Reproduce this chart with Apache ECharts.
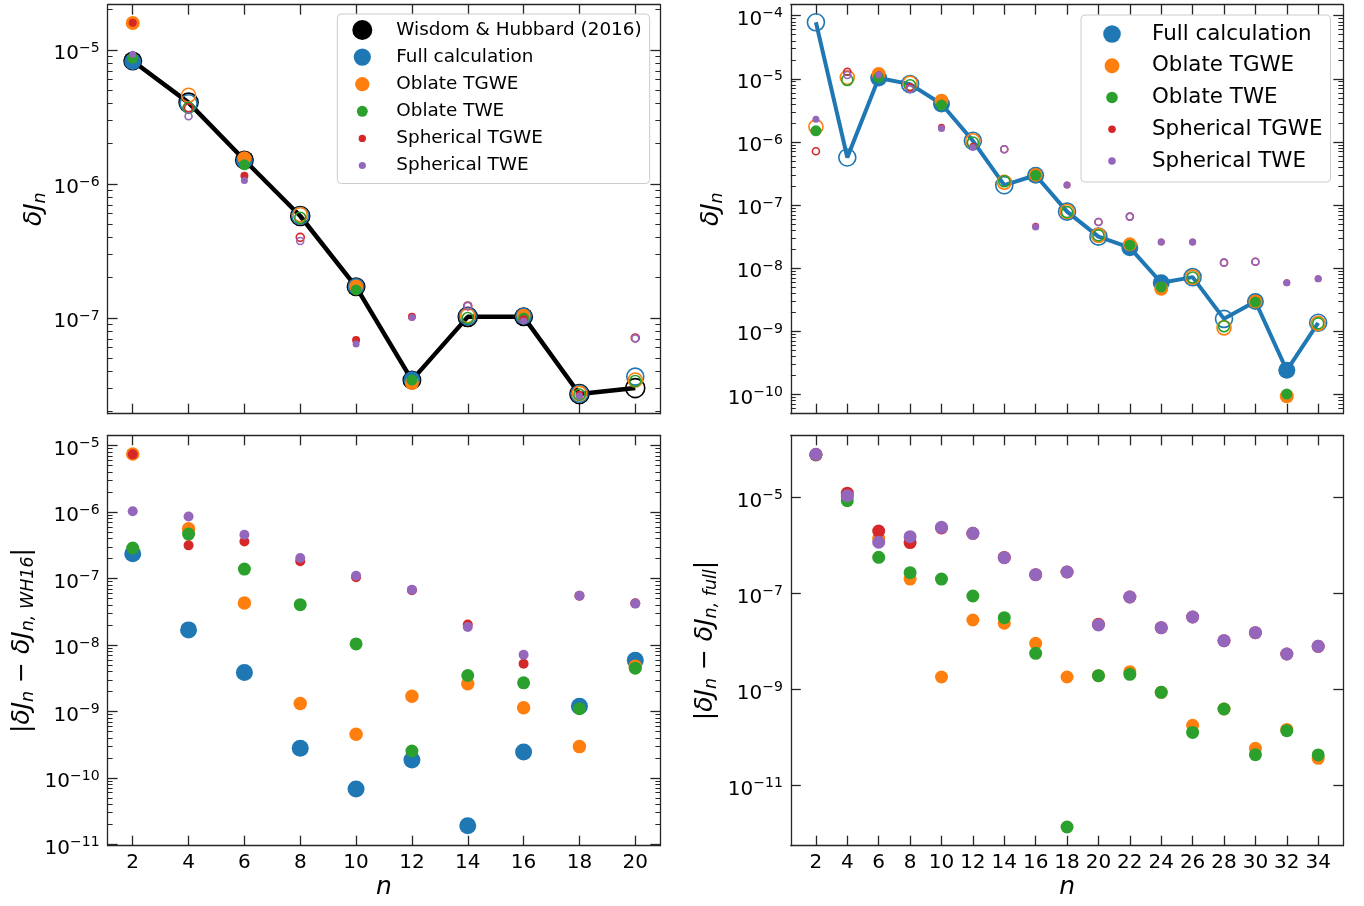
<!DOCTYPE html>
<html><head><meta charset="utf-8">
<script src="https://cdn.jsdelivr.net/npm/echarts@6/dist/echarts.min.js"></script>
<style>html,body{margin:0;padding:0;background:#fff}#c{width:1364px;height:906px}</style>
</head><body><div id="c"></div>
<script>
const FONT = 'DejaVu Sans';
const C_WH = '#000000', C_FULL = '#1f77b4', C_OT = '#ff7f0e', C_OW = '#2ca02c', C_ST = '#d62728', C_SW = '#9467bd';

const nLeft = [2, 4, 6, 8, 10, 12, 14, 16, 18, 20];
const nRight = [2, 4, 6, 8, 10, 12, 14, 16, 18, 20, 22, 24, 26, 28, 30, 32, 34];

// Top-left: δJn (signed; a negative value is drawn as |δJn| with an open marker)
const tlWH16        = [8.28e-6, -4.05e-6, 1.51e-6, -5.77e-7, 1.71e-7, 3.44e-8, -1.02e-7, 1.02e-7, -2.71e-8, -3.0e-8];
const tlFull        = [8.2e-6, -4.0e-6, 1.5e-6, -5.8e-7, 1.72e-7, 3.46e-8, -1.03e-7, 1.03e-7, -2.72e-8, -3.65e-8];
const tlOblateTGWE  = [1.59e-5, -4.6e-6, 1.56e-6, -5.9e-7, 1.72e-7, 3.27e-8, -1.04e-7, 1.04e-7, -2.74e-8, -3.45e-8];
const tlOblateTWE   = [8.7e-6, -3.7e-6, 1.39e-6, -5.6e-7, 1.62e-7, 3.44e-8, -1.0e-7, 1.0e-7, -2.68e-8, -3.39e-8];
const tlSphTGWE     = [1.6e-5, -3.7e-6, 1.15e-6, -4.0e-7, 6.85e-8, 1.02e-7, -1.23e-7, 9.8e-8, 2.68e-8, -7.1e-8];
const tlSphTWE      = [9.3e-6, -3.2e-6, 1.06e-6, -3.76e-7, 6.4e-8, 1.01e-7, -1.23e-7, 9.5e-8, 2.62e-8, -7.05e-8];

// Top-right: δJn (signed)
const trFull        = [-7.85e-5, -5.65e-7, 1.03e-5, -8.24e-6, 3.98e-6, -1.04e-6, -2.06e-7, 2.96e-7, -7.85e-8, -3.15e-8, 2.11e-8, 5.86e-9, -7.2e-9, -1.57e-9, 2.96e-9, 2.4e-10, -1.36e-9];
const trOblateTGWE  = [-1.73e-6, -1.05e-5, 1.19e-5, -8.5e-6, 4.48e-6, -1.04e-6, -2.3e-7, 3.0e-7, -7.9e-8, -3.3e-8, 2.38e-8, 4.71e-9, -7.2e-9, -1.13e-9, 2.96e-9, 9.3e-11, -1.33e-9];
const trOblateTWE   = [1.5e-6, -9.55e-6, 1.05e-5, -7.9e-6, 3.83e-6, -9.8e-7, -2.38e-7, 2.96e-7, -7.7e-8, -3.3e-8, 2.31e-8, 5.0e-9, -7.1e-9, -1.2e-9, 2.9e-9, 1.01e-10, -1.33e-9];
const trSphTGWE     = [-7.1e-7, -1.29e-5, 1.16e-5, -7.3e-6, 1.7e-6, 8.5e-7, -7.65e-7, 4.6e-8, 2.07e-7, -5.37e-8, -6.55e-8, 2.59e-8, 2.59e-8, -1.22e-8, -1.26e-8, 5.86e-9, 6.8e-9];
const trSphTWE      = [2.29e-6, -1.15e-5, 1.16e-5, -6.87e-6, 1.63e-6, 8.15e-7, -7.65e-7, 4.48e-8, 2.07e-7, -5.37e-8, -6.55e-8, 2.59e-8, 2.59e-8, -1.22e-8, -1.26e-8, 5.86e-9, 6.8e-9];

// Bottom-left: |δJn − δJn,WH16|
const blFull        = [2.36e-7, 1.69e-8, 3.85e-9, 2.79e-10, 6.8e-11, 1.86e-10, 1.9e-11, 2.45e-10, 1.2e-9, 5.91e-9];
const blOblateTGWE  = [7.5e-6, 5.6e-7, 4.3e-8, 1.32e-9, 4.53e-10, 1.7e-9, 2.61e-9, 1.14e-9, 2.96e-10, 4.8e-9];
const blOblateTWE   = [2.88e-7, 4.67e-7, 1.39e-7, 4.05e-8, 1.04e-8, 2.54e-10, 3.48e-9, 2.7e-9, 1.1e-9, 4.49e-9];
const blSphTGWE     = [7.4e-6, 3.16e-7, 3.62e-7, 1.82e-7, 1.05e-7, 6.7e-8, 2.03e-8, 5.22e-9, 5.5e-8, 4.25e-8];
const blSphTWE      = [1.03e-6, 8.6e-7, 4.56e-7, 2.04e-7, 1.1e-7, 6.8e-8, 1.87e-8, 7.13e-9, 5.53e-8, 4.2e-8];

// Bottom-right: |δJn − δJn,full|
const brOblateTGWE  = [7.9e-5, 1.05e-5, 1.43e-6, 2.02e-7, 1.84e-9, 2.83e-8, 2.42e-8, 9.25e-9, 1.84e-9, 1.96e-9, 2.37e-9, 8.8e-10, 1.81e-10, 3.96e-10, 6.0e-11, 1.49e-10, 3.72e-11];
const brOblateTWE   = [7.8e-5, 8.67e-6, 5.73e-7, 2.74e-7, 2.02e-7, 8.95e-8, 3.16e-8, 5.73e-9, 1.38e-12, 1.96e-9, 2.09e-9, 8.8e-10, 1.29e-10, 3.96e-10, 4.43e-11, 1.4e-10, 4.37e-11];
const brSphTGWE     = [7.9e-5, 1.24e-5, 2.02e-6, 1.16e-6, 2.35e-6, 1.81e-6, 5.7e-7, 2.49e-7, 2.83e-7, 2.3e-8, 8.53e-8, 1.96e-8, 3.27e-8, 1.05e-8, 1.54e-8, 5.55e-9, 8.0e-9];
const brSphTWE      = [8.0e-5, 1.1e-5, 1.18e-6, 1.54e-6, 2.41e-6, 1.81e-6, 5.62e-7, 2.49e-7, 2.83e-7, 2.23e-8, 8.53e-8, 1.96e-8, 3.27e-8, 1.05e-8, 1.54e-8, 5.55e-9, 8.0e-9];

// Tick labels (major decades)
const yTicksTL = [1e-5, 1e-6, 1e-7];
const yTicksTR = [1e-4, 1e-5, 1e-6, 1e-7, 1e-8, 1e-9, 1e-10];
const yTicksBL = [1e-5, 1e-6, 1e-7, 1e-8, 1e-9, 1e-10, 1e-11];
const yTicksBR = [1e-5, 1e-7, 1e-9, 1e-11];

const NAME_WH = 'Wisdom & Hubbard (2016)', NAME_FULL = 'Full calculation', NAME_OT = 'Oblate TGWE',
      NAME_OW = 'Oblate TWE', NAME_ST = 'Spherical TGWE', NAME_SW = 'Spherical TWE';

// ---------- layout ----------
const grids = [
  {left: 107.6, top: 4.7, width: 552.8, height: 409},
  {left: 790.8, top: 4.7, width: 552.5, height: 409},
  {left: 107.6, top: 435.3, width: 552.8, height: 410.4},
  {left: 790.8, top: 435.3, width: 552.5, height: 410.4}
].map(g => Object.assign({containLabel: false, outerBoundsMode: 'none'}, g));

const xExtL = [1.1, 20.9], xExtR = [0.4, 35.6];
const yExt = [[-7.714, -4.662], [-10.307, -3.826], [-11.02, -4.844], [-12.25, -3.70]];

const AX = {color: '#262626', width: 1.3};
const AXm = {color: '#262626', width: 1.0};

function minorTicks(lo, hi) {
  const out = [];
  for (let k = Math.floor(lo); k <= Math.ceil(hi); k++) {
    for (let m = 2; m <= 9; m++) {
      const v = m * Math.pow(10, k), l = Math.log10(v);
      if (l > lo && l < hi) out.push(v);
    }
  }
  return out;
}

const tickRich = {
  b: {fontFamily: FONT, fontSize: 20, color: '#000', lineHeight: 26},
  s: {fontFamily: FONT, fontSize: 14, color: '#000', lineHeight: 13, verticalAlign: 'top'}
};
function expLabel(v) {
  const e = Math.round(Math.log10(v));
  return '{b|10}{s|\u2212' + Math.abs(e) + '}';
}

const nameRich = {
  u: {fontFamily: FONT, fontSize: 25, color: '#000', lineHeight: 30},
  i: {fontFamily: FONT, fontStyle: 'italic', fontSize: 25, color: '#000', lineHeight: 30},
  sub: {fontFamily: FONT, fontStyle: 'italic', fontSize: 17.5, color: '#000', lineHeight: 16, verticalAlign: 'bottom'}
};

const xAxis = [], yAxis = [], mainX = [], mainY = [];

function addX(g, ext, ticks, showLabels) {
  const common = {
    gridIndex: g, type: 'value', min: ext[0], max: ext[1], splitLine: {show: false},
    axisLine: {show: true, onZero: false, lineStyle: AX},
    axisTick: {show: true, inside: true, length: 10, lineStyle: AX, customValues: ticks}
  };
  mainX[g] = xAxis.length;
  xAxis.push(Object.assign({}, common, {
    position: 'bottom',
    axisLabel: {show: showLabels, customValues: ticks, fontFamily: FONT, fontSize: 20, color: '#000', margin: 7},
    name: showLabels ? 'n' : '', nameLocation: 'middle', nameGap: 29, nameMoveOverlap: false,
    nameTextStyle: {fontFamily: FONT, fontStyle: 'italic', fontSize: 25, color: '#000', lineHeight: 26}
  }));
  xAxis.push(Object.assign({}, common, {position: 'top', axisLabel: {show: false}}));
}

function addY(g, ext, majors, withMinor, name, nameGap) {
  const base = {
    gridIndex: g, type: 'log', logBase: 10, min: Math.pow(10, ext[0]), max: Math.pow(10, ext[1]),
    splitLine: {show: false}
  };
  mainY[g] = yAxis.length;
  yAxis.push(Object.assign({}, base, {
    position: 'left',
    axisLine: {show: true, onZero: false, lineStyle: AX},
    axisTick: {show: true, inside: true, length: 10, lineStyle: AX, customValues: majors},
    axisLabel: {show: true, customValues: majors, formatter: expLabel, rich: tickRich, margin: 8, padding: [8, 0, 0, 0]},
    name: name, nameLocation: 'middle', nameGap: nameGap, nameMoveOverlap: false,
    nameTextStyle: {fontFamily: FONT, fontSize: 25, color: '#000', rich: nameRich}
  }));
  yAxis.push(Object.assign({}, base, {
    position: 'right',
    axisLine: {show: true, onZero: false, lineStyle: AX},
    axisTick: {show: true, inside: true, length: 10, lineStyle: AX, customValues: majors},
    axisLabel: {show: false}
  }));
  if (withMinor) {
    const minors = minorTicks(ext[0], ext[1]);
    ['left', 'right'].forEach(pos => {
      yAxis.push(Object.assign({}, base, {
        position: pos,
        axisLine: {show: false},
        axisTick: {show: true, inside: true, length: 5, lineStyle: AXm, customValues: minors},
        axisLabel: {show: false}
      }));
    });
  }
}

addX(0, xExtL, nLeft, false);
addX(1, xExtR, nRight, false);
addX(2, xExtL, nLeft, true);
addX(3, xExtR, nRight, true);

addY(0, yExt[0], yTicksTL, true, '{i|\u03b4J}{sub|n}', 58);
addY(1, yExt[1], yTicksTR, true, '{i|\u03b4J}{sub|n}', 64);
addY(2, yExt[2], yTicksBL, true, '{u||}{i|\u03b4J}{sub|n}{u| \u2212 }{i|\u03b4J}{sub|n, WH16}{u||}', 70);
addY(3, yExt[3], yTicksBR, false, '{u||}{i|\u03b4J}{sub|n}{u| \u2212 }{i|\u03b4J}{sub|n, full}{u||}', 70);

// ---------- series ----------
const series = [];
function sc(name, g, ns, vals, color, size) {
  series.push({
    type: 'scatter', name: name, xAxisIndex: mainX[g], yAxisIndex: mainY[g],
    symbol: 'circle', symbolSize: size, itemStyle: {color: color, opacity: 1},
    data: ns.map((n, i) => {
      const v = vals[i];
      return v < 0
        ? {value: [n, -v], itemStyle: {color: 'rgba(255,255,255,0)', borderColor: color, borderWidth: 1.6}}
        : {value: [n, v]};
    }),
    animation: false, silent: true, z: 2
  });
}
function ln(g, ns, vals, color, width) {
  series.push({
    type: 'line', name: '_line' + g, xAxisIndex: mainX[g], yAxisIndex: mainY[g],
    data: ns.map((n, i) => [n, Math.abs(vals[i])]),
    showSymbol: false, symbol: 'none', lineStyle: {color: color, width: width}, itemStyle: {color: color},
    animation: false, silent: true, z: 1
  });
}

// top-left
ln(0, nLeft, tlWH16, C_WH, 4.5);
sc(NAME_WH, 0, nLeft, tlWH16, C_WH, 19);
sc(NAME_FULL, 0, nLeft, tlFull, C_FULL, 17);
sc(NAME_OT, 0, nLeft, tlOblateTGWE, C_OT, 14);
sc(NAME_OW, 0, nLeft, tlOblateTWE, C_OW, 11);
sc(NAME_ST, 0, nLeft, tlSphTGWE, C_ST, 8);
sc(NAME_SW, 0, nLeft, tlSphTWE, C_SW, 7);
// top-right
ln(1, nRight, trFull, C_FULL, 4);
sc(NAME_FULL, 1, nRight, trFull, C_FULL, 17);
sc(NAME_OT, 1, nRight, trOblateTGWE, C_OT, 14);
sc(NAME_OW, 1, nRight, trOblateTWE, C_OW, 11);
sc(NAME_ST, 1, nRight, trSphTGWE, C_ST, 7);
sc(NAME_SW, 1, nRight, trSphTWE, C_SW, 7);
// bottom-left
sc(NAME_FULL, 2, nLeft, blFull, C_FULL, 17);
sc(NAME_OT, 2, nLeft, blOblateTGWE, C_OT, 13.5);
sc(NAME_OW, 2, nLeft, blOblateTWE, C_OW, 13);
sc(NAME_ST, 2, nLeft, blSphTGWE, C_ST, 10);
sc(NAME_SW, 2, nLeft, blSphTWE, C_SW, 10);
// bottom-right
sc(NAME_OT, 3, nRight, brOblateTGWE, C_OT, 13);
sc(NAME_OW, 3, nRight, brOblateTWE, C_OW, 13);
sc(NAME_ST, 3, nRight, brSphTGWE, C_ST, 13);
sc(NAME_SW, 3, nRight, brSphTWE, C_SW, 13);

// ---------- legends ----------
function icon(W, H, cx, r) {
  const cy = H / 2;
  return 'path://M0 0 M' + W + ' ' + H + ' M' + (cx - r) + ' ' + cy +
    ' A' + r + ' ' + r + ' 0 1 1 ' + (cx + r) + ' ' + cy +
    ' A' + r + ' ' + r + ' 0 1 1 ' + (cx - r) + ' ' + cy + ' Z';
}
const legendBox = {
  orient: 'vertical', selectedMode: false, backgroundColor: 'rgba(255,255,255,0.8)',
  borderColor: '#cccccc', borderWidth: 1, borderRadius: 4
};
const legend = [
  Object.assign({}, legendBox, {
    left: 337.3, top: 14, padding: [6, 8, 8, 10], itemGap: 7.1, itemWidth: 44, itemHeight: 20,
    textStyle: {fontFamily: FONT, fontSize: 18.4, color: '#000', lineHeight: 20},
    data: [
      {name: NAME_WH, icon: icon(44, 20, 15, 10)},
      {name: NAME_FULL, icon: icon(44, 20, 15, 8.6)},
      {name: NAME_OT, icon: icon(44, 20, 15, 7.1)},
      {name: NAME_OW, icon: icon(44, 20, 15, 5.5)},
      {name: NAME_ST, icon: icon(44, 20, 15, 3.7)},
      {name: NAME_SW, icon: icon(44, 20, 15, 3.6)}
    ]
  }),
  Object.assign({}, legendBox, {
    left: 1081, top: 15, padding: [7, 8, 9, 10], itemGap: 7.75, itemWidth: 56, itemHeight: 24,
    textStyle: {fontFamily: FONT, fontSize: 21.4, color: '#000', lineHeight: 24},
    data: [
      {name: NAME_FULL, icon: icon(56, 24, 21, 8.8)},
      {name: NAME_OT, icon: icon(56, 24, 21, 7.4)},
      {name: NAME_OW, icon: icon(56, 24, 21, 5.8)},
      {name: NAME_ST, icon: icon(56, 24, 21, 3.8)},
      {name: NAME_SW, icon: icon(56, 24, 21, 3.8)}
    ]
  })
];

const chart = echarts.init(document.getElementById('c'), null, {renderer: 'canvas'});
chart.setOption({
  backgroundColor: '#ffffff',
  animation: false,
  textStyle: {fontFamily: FONT},
  grid: grids, xAxis: xAxis, yAxis: yAxis, series: series, legend: legend
});
</script>
</body></html>
